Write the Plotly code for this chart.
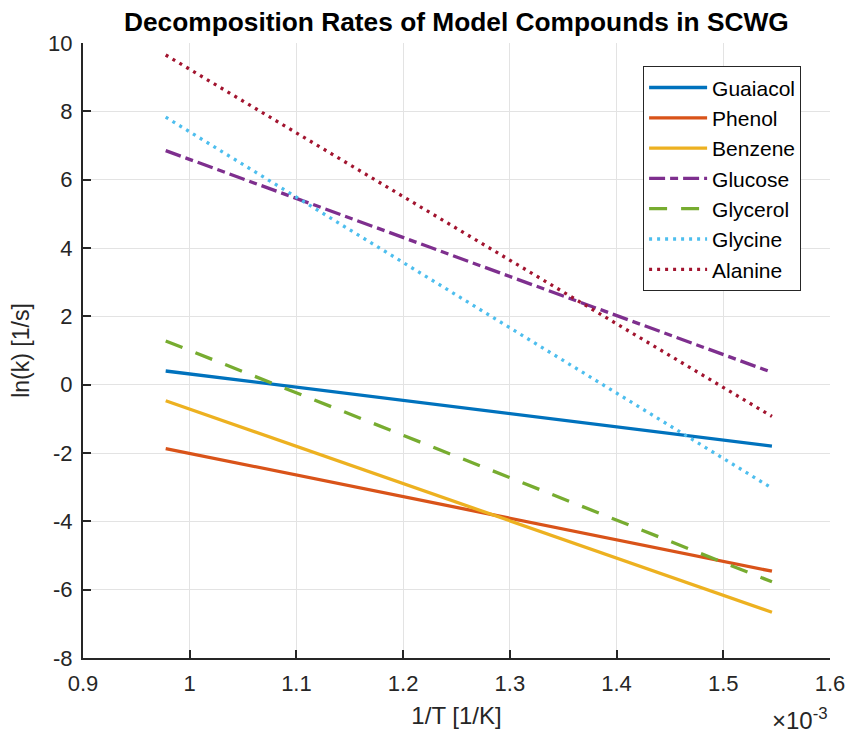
import plotly.graph_objects as go

# 1/T values (in units of 1e-3 1/K)
inv_T = [0.9775, 1.5456]

series_names = ["Guaiacol", "Phenol", "Benzene", "Glucose", "Glycerol", "Glycine", "Alanine"]
guaiacol = [0.40, -1.80]
phenol = [-1.87, -5.46]
benzene = [-0.47, -6.66]
glucose = [6.85, 0.36]
glycerol = [1.28, -5.77]
glycine = [7.83, -3.03]
alanine = [9.65, -0.93]

colors = ["#0072BD", "#D95319", "#EDB120", "#7E2F8E", "#77AC30", "#4DBEEE", "#A2142F"]
dashes = ["solid", "solid", "solid", "16px,5px,8px,5px", "18px,14px", "3px,5px", "3px,5px"]
values = [guaiacol, phenol, benzene, glucose, glycerol, glycine, alanine]

x_ticks = [0.9, 1.0, 1.1, 1.2, 1.3, 1.4, 1.5, 1.6]
x_ticklabels = ["0.9", "1", "1.1", "1.2", "1.3", "1.4", "1.5", "1.6"]
y_ticks = [-8, -6, -4, -2, 0, 2, 4, 6, 8, 10]
y_ticklabels = ["-8", "-6", "-4", "-2", "0", "2", "4", "6", "8", "10"]

fig = go.Figure()
for name, vals, c, d in zip(series_names, values, colors, dashes):
    fig.add_trace(go.Scatter(x=inv_T, y=vals, mode="lines", name=name,
                             line=dict(color=c, width=3.3, dash=d)))

font_family = "Liberation Sans, Arial, sans-serif"

fig.update_layout(
    width=849, height=736,
    margin=dict(l=83, r=19, t=43, b=78),
    paper_bgcolor="white", plot_bgcolor="white",
    font=dict(family=font_family, size=22, color="#262626"),
    title=dict(text="<b>Decomposition Rates of Model Compounds in SCWG</b>",
               x=0.5375, xanchor="center", y=0.970, yanchor="middle",
               font=dict(size=26.3, color="black", family=font_family)),
    xaxis=dict(range=[0.9, 1.6], tickvals=x_ticks, ticktext=x_ticklabels,
               automargin=False,
               showgrid=True, gridcolor="#e3e3e3", gridwidth=1,
               showline=True, linecolor="#262626", linewidth=2, mirror=False,
               ticks="inside", ticklen=8, tickcolor="#262626", tickwidth=1.5,
               ticklabelstandoff=5,
               zeroline=False,
               title=dict(text="1/T [1/K]", standoff=12, font=dict(size=24)),
               tickfont=dict(size=22)),
    yaxis=dict(range=[-8, 10], tickvals=y_ticks, ticktext=y_ticklabels,
               automargin=False,
               showgrid=True, gridcolor="#e3e3e3", gridwidth=1,
               showline=True, linecolor="#262626", linewidth=2, mirror=False,
               ticks="inside", ticklen=8, tickcolor="#262626", tickwidth=1.5,
               ticklabelstandoff=4,
               zeroline=False,
               title=dict(text="ln(k) [1/s]", standoff=12, font=dict(size=23)),
               tickfont=dict(size=22)),
    legend=dict(x=0.7498, y=0.962, xanchor="left", yanchor="top",
                bgcolor="white", bordercolor="#262626", borderwidth=1,
                font=dict(size=21, color="black"), tracegroupgap=0,
                itemwidth=58),
    showlegend=True,
)

fig.add_annotation(text="×10<sup>-3</sup>", xref="paper", yref="paper",
                   x=1.0, y=-0.1268, xanchor="right", yanchor="bottom",
                   showarrow=False, font=dict(size=24, color="#262626"))

fig.write_html("out.html")
